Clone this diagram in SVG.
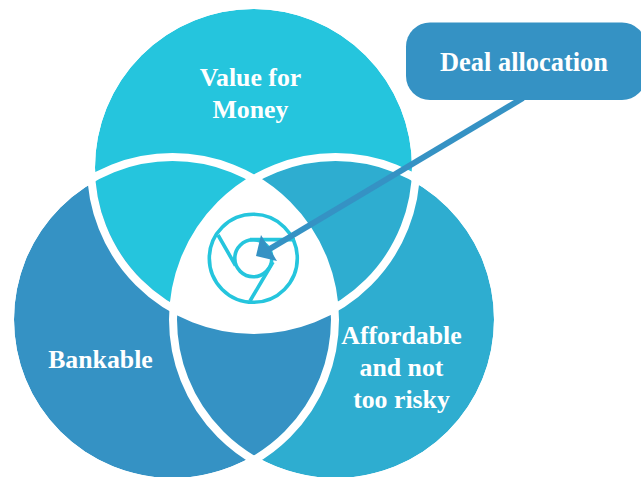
<svg xmlns="http://www.w3.org/2000/svg" width="641" height="477" viewBox="0 0 641 477">
<style>
.lbl{font-family:"Liberation Serif","Times New Roman",serif;font-weight:bold;fill:#fff;text-anchor:middle;font-size:25.800px}
.ring{fill:none;stroke:#fff;stroke-width:8}
.ico{fill:none;stroke:#25c5dd;stroke-width:3.6}
</style>
<defs>
<circle id="cT" cx="253.5" cy="167.5" r="158.5"/>
<circle id="cL" cx="172.5" cy="319.5" r="158.500"/>
<circle id="cR" cx="335.500" cy="319.5" r="158.500"/>
<clipPath id="clipL"><use href="#cL"/></clipPath>
<clipPath id="clipR"><use href="#cR"/></clipPath>
<clipPath id="clipLw"><circle cx="172.5" cy="319.5" r="160.5"/></clipPath>
<clipPath id="clipRw"><circle cx="335.5" cy="319.5" r="160.5"/></clipPath>
</defs>
<rect width="641" height="477" fill="#fff"/>
<g id="circle-bankable">
<use href="#cL" fill="#3592c4"/>
</g>
<g id="circle-affordable">
<use href="#cR" fill="#2eadd0"/>
<g clip-path="url(#clipL)"><use href="#cR" fill="#3592c4"/></g>
</g>
<g id="circle-value">
<use href="#cT" fill="#25c5dd"/>
<g clip-path="url(#clipR)"><use href="#cT" fill="#2eadd0"/></g>
<g clip-path="url(#clipLw)"><g clip-path="url(#clipRw)"><circle cx="253.5" cy="167.5" r="160.5" fill="#fff"/></g></g>
</g>
<g id="rings">
<circle class="ring" cx="253.5" cy="167.5" r="162.5"/>
<circle class="ring" cx="172.5" cy="319.5" r="162.5"/>
<circle class="ring" cx="335.5" cy="319.5" r="162.5"/>
</g>
<g id="center-icon">
<circle class="ico" cx="253.3" cy="258.3" r="44"/>
<circle class="ico" cx="253.3" cy="258.3" r="18.5"/>
<path class="ico" d="M250 239.6H295M218 235L235.500 265.500M273 262L250 301"/>
</g>
<g id="connectors">
<line x1="523" y1="98" x2="268" y2="250" stroke="#3592c4" stroke-width="6"/>
<polygon points="256,256 261,235 277,261" fill="#3592c4"/>
</g>
<g id="node-deal">
<rect x="406" y="22.5" width="240" height="77.500" rx="24" fill="#3592c4"/>
<text class="lbl" x="524" y="71" style="font-size:26.4px">Deal allocation</text>
</g>
<g id="label-value"><text class="lbl" x="250.500" y="86">Value for</text><text class="lbl" x="250.500" y="118">Money</text></g>
<g id="label-bankable"><text class="lbl" x="100.500" y="368">Bankable</text></g>
<g id="label-affordable"><text class="lbl" x="401.500" y="344">Affordable</text><text class="lbl" x="401.500" y="376">and not</text><text class="lbl" x="401.500" y="408">too risky</text></g>
</svg>
